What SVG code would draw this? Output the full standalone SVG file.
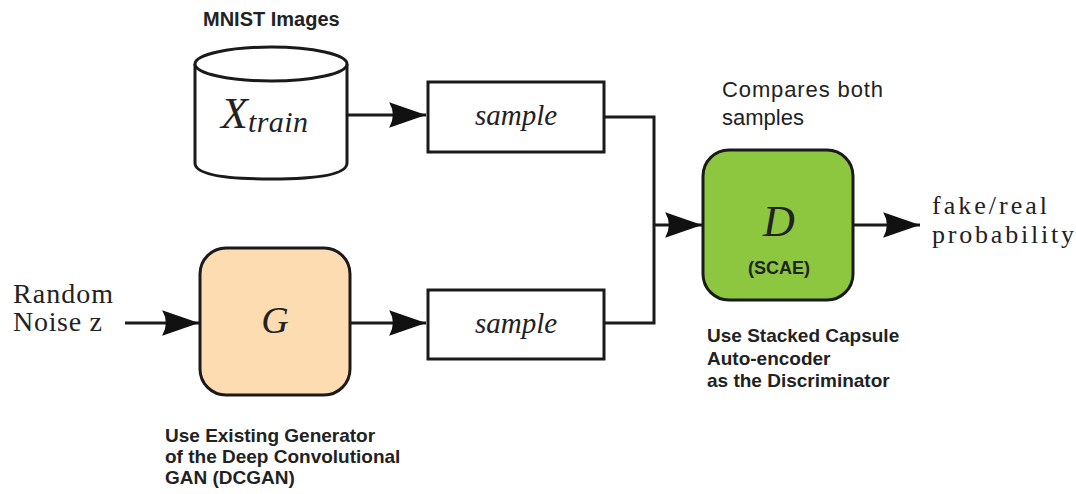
<svg xmlns="http://www.w3.org/2000/svg" width="1076" height="494" viewBox="0 0 1076 494">
<style>
.ln{fill:none;stroke:#1a1a1a;stroke-width:3}
.box{fill:#fff;stroke:#1a1a1a;stroke-width:3}
.serif{font-family:"Liberation Serif","DejaVu Serif",serif;fill:#222}
.it{font-style:italic}
.sans{font-family:"Liberation Sans",Arial,sans-serif;fill:#222}
.b{font-weight:bold}
</style>
<defs>
<marker id="ah" markerUnits="userSpaceOnUse" markerWidth="40" markerHeight="30" viewBox="-36 -14 38 28" refX="0" refY="0" orient="auto">
<path d="M0,0 L-35,-12 Q-28,0 -35,12 Z" fill="#111"/>
</marker>
</defs>
<rect width="1076" height="494" fill="#fff"/>
<g id="connectors">
<path class="ln" d="M347,115 L426,115" marker-end="url(#ah)"/>
<path class="ln" d="M125,323 L199,323" marker-end="url(#ah)"/>
<path class="ln" d="M350,323 L426,323" marker-end="url(#ah)"/>
<path class="ln" d="M604,117 L654,117 L654,323 L604,323"/>
<path class="ln" d="M654,225 L702,225" marker-end="url(#ah)"/>
<path class="ln" d="M853,225 L920,225" marker-end="url(#ah)"/>
</g>
<g id="mnist">
<text class="sans b" x="203" y="26" font-size="20">MNIST Images</text>
</g>
<g id="xtrain">
<path class="box" d="M195,64 L195,163 Q195,179 271,179 Q347,179 347,163 L347,64"/>
<ellipse class="box" cx="271" cy="64" rx="76" ry="17"/>
<text class="serif it" x="221" y="128" font-size="44">X<tspan font-size="30" dy="4" textLength="60">train</tspan></text>
</g>
<g id="sample1">
<rect class="box" x="428" y="82" width="176" height="70"/>
<text class="serif it" x="516" y="125" font-size="29" text-anchor="middle">sample</text>
</g>
<g id="noise">
<text class="serif" x="13" y="303" font-size="28" textLength="100">Random</text>
<text class="serif" x="13" y="331" font-size="28" textLength="89">Noise z</text>
</g>
<g id="G">
<rect x="200" y="248" width="150" height="147" rx="26" fill="#fddcb2" stroke="#1a1a1a" stroke-width="3"/>
<text class="serif it" x="275" y="333" font-size="38" text-anchor="middle">G</text>
<text class="sans b" x="165" y="442" font-size="19">Use Existing Generator</text>
<text class="sans b" x="165" y="463" font-size="19">of the Deep Convolutional</text>
<text class="sans b" x="165" y="484" font-size="19">GAN (DCGAN)</text>
</g>
<g id="sample2">
<rect class="box" x="428" y="290" width="176" height="69"/>
<text class="serif it" x="516" y="333" font-size="29" text-anchor="middle">sample</text>
</g>
<g id="D">
<text class="sans" x="722" y="97" font-size="22" textLength="161">Compares both</text>
<text class="sans" x="722" y="125" font-size="22">samples</text>
<rect x="703" y="150" width="150" height="150" rx="26" fill="#8dc63f" stroke="#1a1a1a" stroke-width="3"/>
<text class="serif it" x="779" y="236" font-size="44" text-anchor="middle">D</text>
<text class="sans b" x="779" y="274" font-size="18" text-anchor="middle">(SCAE)</text>
<text class="sans b" x="707" y="342" font-size="19">Use Stacked Capsule</text>
<text class="sans b" x="707" y="365" font-size="19">Auto-encoder</text>
<text class="sans b" x="707" y="387" font-size="19">as the Discriminator</text>
</g>
<g id="output">
<text class="serif" x="932" y="214" font-size="26" textLength="115">fake/real</text>
<text class="serif" x="932" y="243" font-size="26" textLength="142">probability</text>
</g>
</svg>
